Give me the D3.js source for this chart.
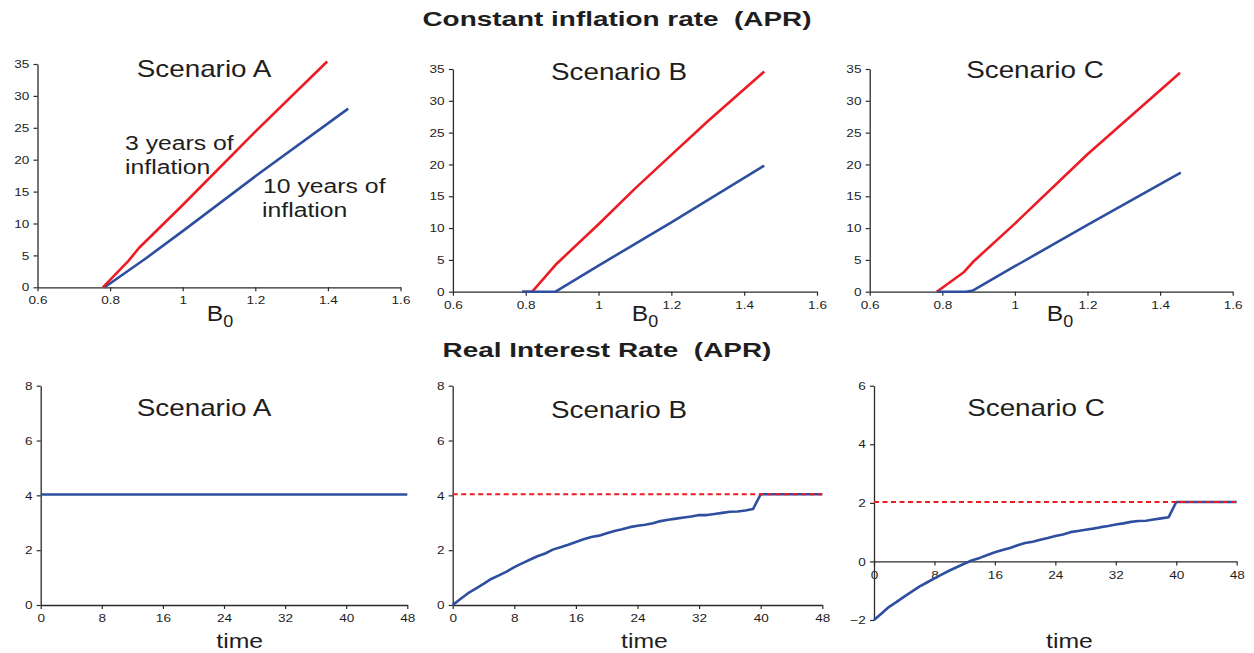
<!DOCTYPE html>
<html>
<head>
<meta charset="utf-8">
<script src="https://cdn.jsdelivr.net/npm/d3@7"></script>
<style>
  body { margin: 0; background: #fff; }
  text { font-family: "Liberation Sans", Arial, sans-serif; fill: #1e1e1e; }
</style>
</head>
<body>
<script>
// tick values
const b0Ticks = [0.6, 0.8, 1, 1.2, 1.4, 1.6];
const inflTicks = [0, 5, 10, 15, 20, 25, 30, 35];
const timeTicks = [0, 8, 16, 24, 32, 40, 48];
const realTicksAB = [0, 2, 4, 6, 8];
const realTicksC = [-2, 0, 2, 4, 6];

// constant inflation rate vs B0, pairs of [B0, APR]
const inflA3 = [[0.78, 0], [0.85, 4.1], [0.88, 6.2], [1.0, 12.9], [1.2, 24.4], [1.398, 35.4]];
const inflA10 = [[0.785, 0], [0.9, 4.6], [1.0, 8.8], [1.2, 17.4], [1.456, 28.0]];
const inflB3 = [[0.79, 0], [0.818, 0], [0.885, 4.4], [1.0, 10.6], [1.1, 16.2], [1.2, 21.5], [1.3, 26.8], [1.455, 34.6]];
const inflB10 = [[0.79, 0], [0.882, 0], [1.0, 4.1], [1.2, 10.9], [1.455, 19.8]];
const inflC3 = [[0.785, 0], [0.86, 3.1], [0.885, 4.7], [1.0, 10.7], [1.2, 21.6], [1.455, 34.4]];
const inflC10 = [[0.785, 0], [0.865, 0], [0.885, 0.2], [1.0, 4.0], [1.2, 10.5], [1.457, 18.7]];

// real interest rate over time
const timeFlat = [0, 48];
const realA = [4.03, 4.03];
const targetB = [4.04, 4.04];
const targetC = [2.03, 2.03];
const timeSteps = [0, 1, 2, 3, 4, 5, 6, 7, 8, 9, 10, 11, 12, 13, 14, 15, 16, 17, 18, 19, 20,
  21, 22, 23, 24, 25, 26, 27, 28, 29, 30, 31, 32, 33, 34, 35, 36, 37, 38, 39, 40, 48];
const realB = [0, 0.22, 0.43, 0.6, 0.77, 0.95, 1.08, 1.22, 1.38, 1.52, 1.65, 1.78, 1.88, 2.02,
  2.11, 2.2, 2.3, 2.4, 2.48, 2.53, 2.62, 2.7, 2.76, 2.84, 2.89, 2.93, 2.98, 3.06, 3.11, 3.15,
  3.19, 3.23, 3.28, 3.28, 3.32, 3.36, 3.4, 3.41, 3.45, 3.5, 4.04, 4.04];
const realC = [-2, -1.78, -1.55, -1.38, -1.2, -1.03, -0.86, -0.72, -0.58, -0.44, -0.31, -0.19,
  -0.07, 0.04, 0.12, 0.22, 0.31, 0.39, 0.46, 0.55, 0.63, 0.67, 0.74, 0.8, 0.87, 0.92, 1.0,
  1.04, 1.08, 1.12, 1.17, 1.21, 1.26, 1.3, 1.35, 1.38, 1.39, 1.43, 1.47, 1.51, 2.03, 2.03];

const RED = "#ec1c24", BLUE = "#2e4f9f", AXIS = "#2a2a2a";
const SX = 1.18;   // the original text looks a bit wide

var svg = d3.select("body").append("svg")
  .attr("width", 1254)
  .attr("height", 653);

var addText = function(x, y, txt, size, weight, anchor, sx) {
  return svg.append("text")
    .attr("transform", "translate(" + x + "," + y + ") scale(" + (sx || SX) + ",1)")
    .attr("text-anchor", anchor || "middle")
    .style("font-size", size + "px")
    .style("font-weight", weight || "normal")
    .style("white-space", "pre")
    .text(txt);
};

var zip = function(xs, ys) {
  return xs.map(function(d, i) { return [d, ys[i]]; });
};

var drawPanel = function(p) {
  var x = d3.scaleLinear().domain(p.xDomain).range(p.xRange);
  var y = d3.scaleLinear().domain(p.yDomain).range(p.yRange);
  var g = svg.append("g");

  var xAxis = g.append("g")
    .attr("transform", "translate(0," + y(p.xAxisAt) + ")")
    .call(d3.axisBottom(x).tickValues(p.xTicks).tickSize(4).tickSizeOuter(0).tickPadding(5)
      .tickFormat(d3.format("")));
  var yAxis = g.append("g")
    .attr("transform", "translate(" + x(p.xDomain[0]) + ",0)")
    .call(d3.axisLeft(y).tickValues(p.yTicks).tickSize(4).tickSizeOuter(0).tickPadding(3)
      .tickFormat(d3.format("")));

  [xAxis, yAxis].forEach(function(a) {
    a.select(".domain").attr("stroke", AXIS).attr("stroke-width", 1.3);
    a.selectAll(".tick line").attr("stroke", AXIS).attr("stroke-width", 1.2);
    a.selectAll(".tick text")
      .style("font-family", "'Liberation Sans', Arial, sans-serif")
      .style("font-size", "11.5px")
      .attr("fill", "#1e1e1e")
      .attr("transform", "scale(" + SX + ",1)");
  });

  var line = d3.line()
    .x(function(d) { return x(d[0]); })
    .y(function(d) { return y(d[1]); });

  p.series.forEach(function(s) {
    g.append("path")
      .datum(s.data)
      .attr("fill", "none")
      .attr("stroke", s.color)
      .attr("stroke-width", s.dash ? 2 : 2.6)
      .attr("stroke-dasharray", s.dash || null)
      .attr("stroke-linejoin", "round")
      .attr("d", line);
  });

  addText(p.title[0], p.title[1], p.name, 24, "normal", "middle", 1.16);
};

// top row
drawPanel({
  name: "Scenario A", xDomain: [0.6, 1.6], xRange: [37.5, 400.5], yDomain: [0, 35], yRange: [287.3, 64],
  xTicks: b0Ticks, yTicks: inflTicks, xAxisAt: 0, title: [204, 77],
  series: [{data: inflA10, color: BLUE}, {data: inflA3, color: RED}]
});
drawPanel({
  name: "Scenario B", xDomain: [0.6, 1.6], xRange: [452.9, 817], yDomain: [0, 35], yRange: [291.7, 69],
  xTicks: b0Ticks, yTicks: inflTicks, xAxisAt: 0, title: [619, 80],
  series: [{data: inflB3, color: RED}, {data: inflB10, color: BLUE}]
});
drawPanel({
  name: "Scenario C", xDomain: [0.6, 1.6], xRange: [869.7, 1232.7], yDomain: [0, 35], yRange: [291.7, 69],
  xTicks: b0Ticks, yTicks: inflTicks, xAxisAt: 0, title: [1035, 78],
  series: [{data: inflC3, color: RED}, {data: inflC10, color: BLUE}]
});

// bottom row
drawPanel({
  name: "Scenario A", xDomain: [0, 48], xRange: [40.7, 407.3], yDomain: [0, 8], yRange: [605, 385.7],
  xTicks: timeTicks, yTicks: realTicksAB, xAxisAt: 0, title: [204, 416],
  series: [{data: zip(timeFlat, realA), color: BLUE}]
});
drawPanel({
  name: "Scenario B", xDomain: [0, 48], xRange: [452.7, 822.3], yDomain: [0, 8], yRange: [605, 385.7],
  xTicks: timeTicks, yTicks: realTicksAB, xAxisAt: 0, title: [619, 418],
  series: [{data: zip(timeSteps, realB), color: BLUE}, {data: zip(timeFlat, targetB), color: RED, dash: "5,3.5"}]
});
drawPanel({
  name: "Scenario C", xDomain: [0, 48], xRange: [874, 1236.7], yDomain: [-2, 6], yRange: [620, 385.7],
  xTicks: timeTicks, yTicks: realTicksC, xAxisAt: 0, title: [1036, 416],
  series: [{data: zip(timeSteps, realC), color: BLUE}, {data: zip(timeFlat, targetC), color: RED, dash: "5,3.5"}]
});

// headings
addText(617, 26, "Constant inflation rate  (APR)", 21, "bold", "middle", 1.33);
addText(607, 357, "Real Interest Rate  (APR)", 21, "bold", "middle", 1.33);

// annotations in scenario A
addText(125, 150, "3 years of", 21, "normal", "start");
addText(125, 174, "inflation", 21, "normal", "start");
addText(263, 193, "10 years of", 21, "normal", "start");
addText(262, 217, "inflation", 21, "normal", "start");

// B0 labels
[206.7, 631.7, 1046.7].forEach(function(bx) {
  var t = svg.append("text")
    .attr("transform", "translate(" + bx + ",321) scale(1.12,1)")
    .style("font-size", "22px");
  t.append("tspan").text("B");
  t.append("tspan").attr("dy", 6).style("font-size", "16px").text("0");
});

// time labels
[239.7, 644.5, 1069.5].forEach(function(tx) {
  addText(tx, 648, "time", 21, "normal", "middle");
});
</script>
</body>
</html>
